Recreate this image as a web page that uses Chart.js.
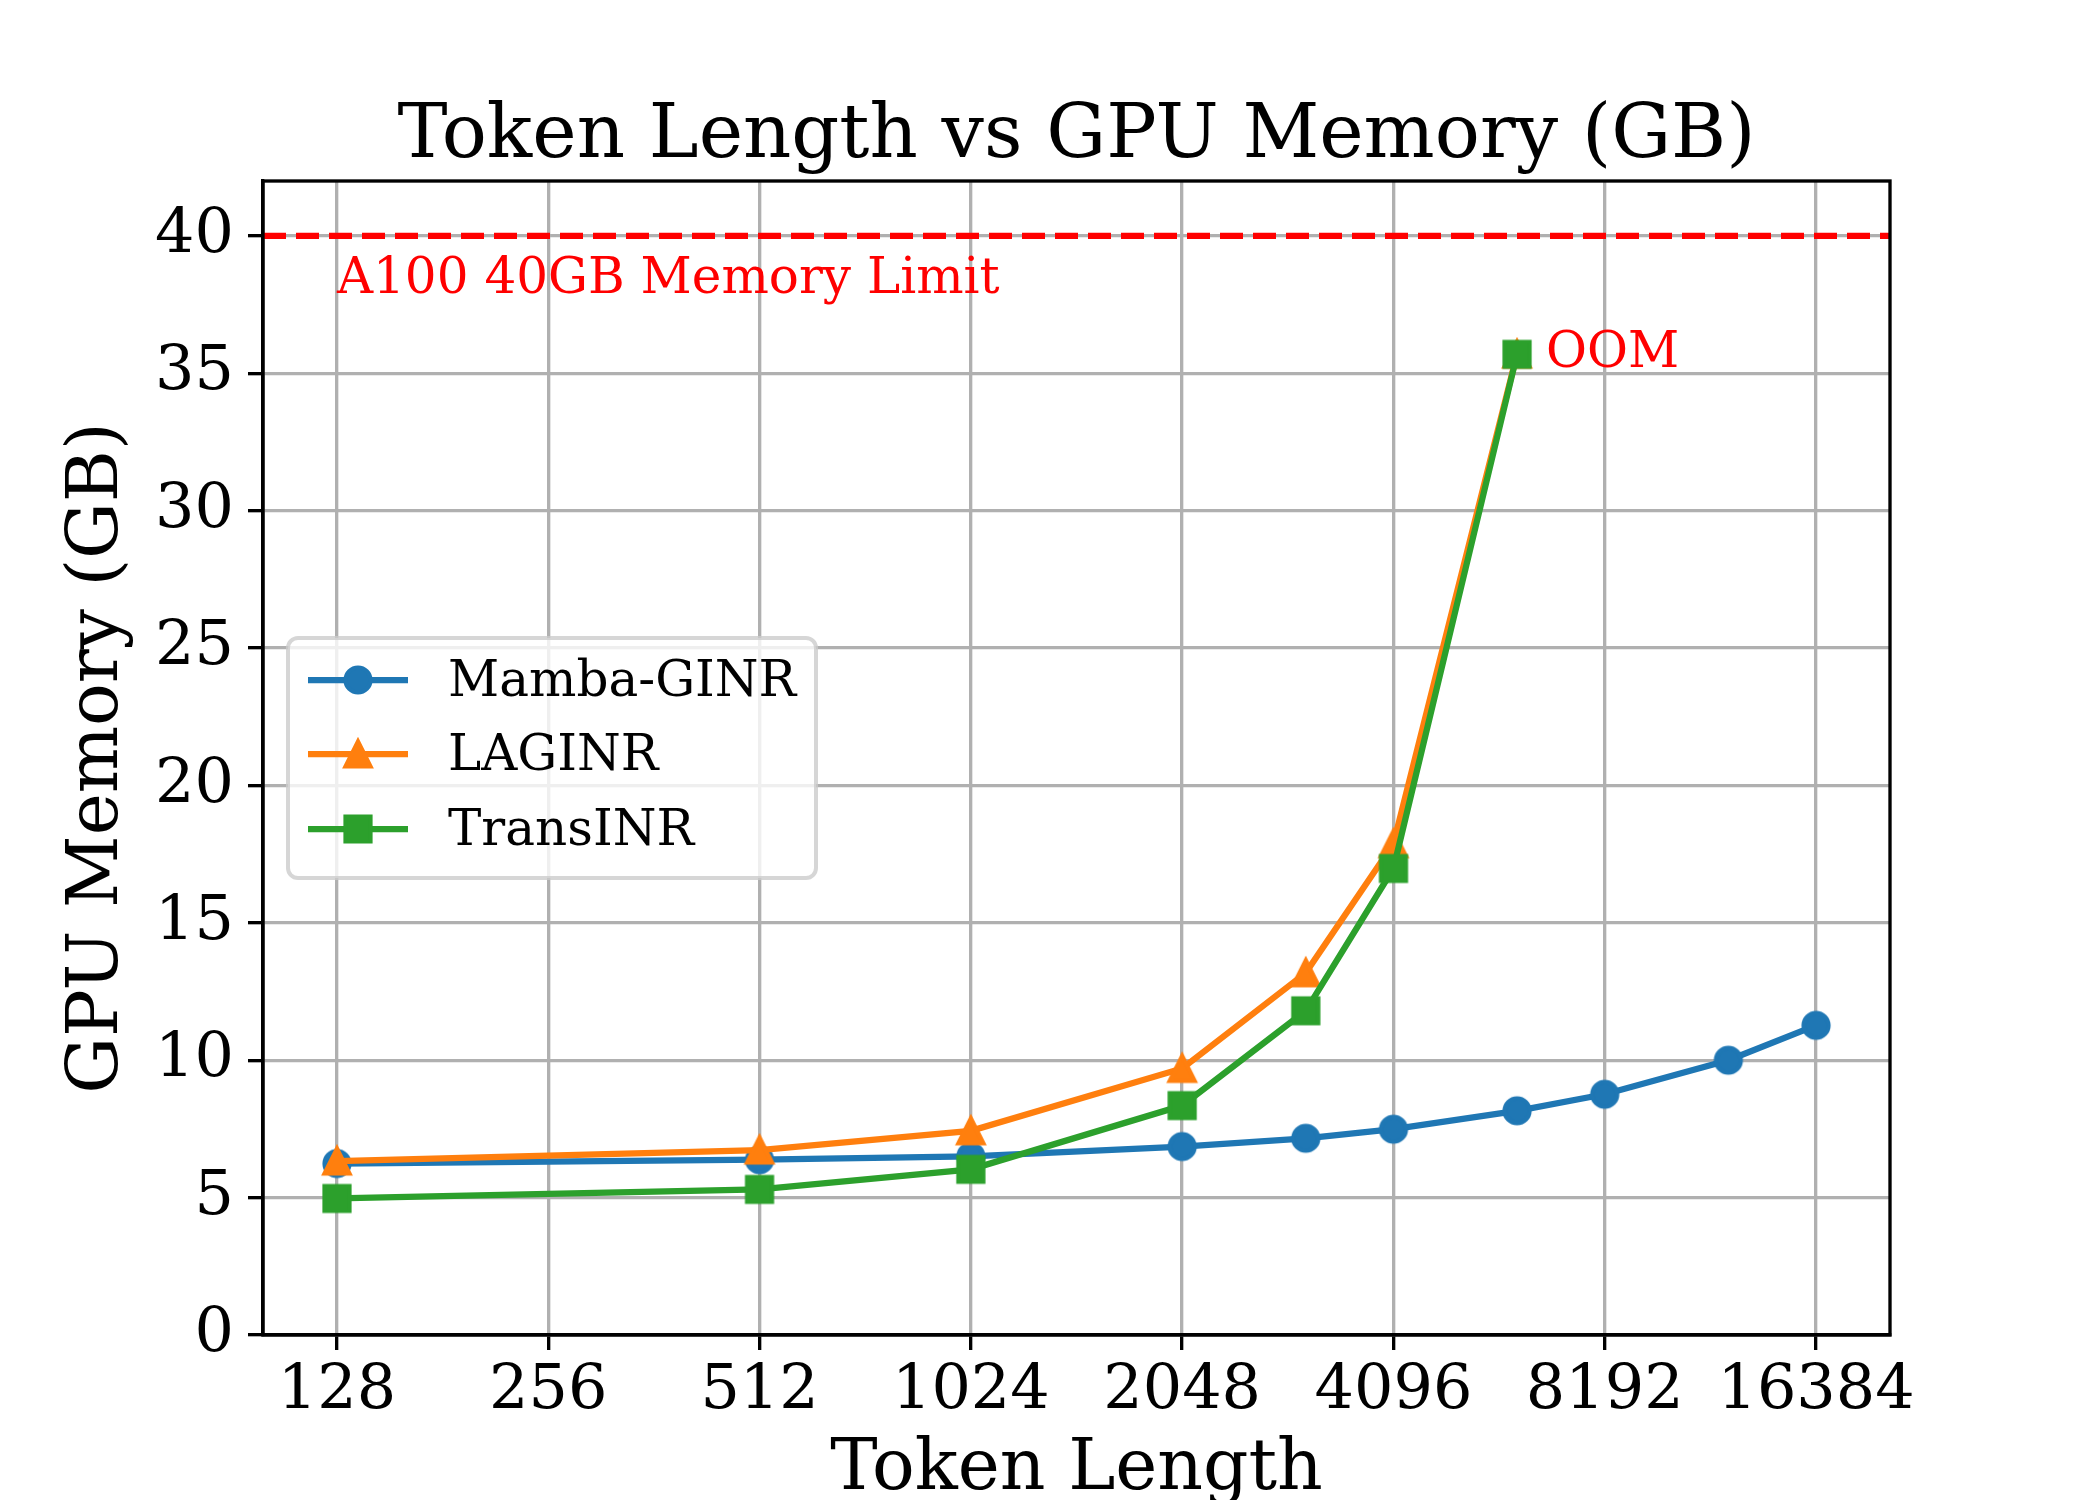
<!DOCTYPE html>
<html>
<head>
<meta charset="utf-8">
<script src="https://cdn.jsdelivr.net/npm/chart.js@4.4.1/dist/chart.umd.min.js"></script>
<style>
  html, body { margin: 0; padding: 0; background: #fff; }
</style>
</head>
<body>
<canvas id="chart" width="2100" height="1500"></canvas>
<script>
// tick values
const tokenTicks = [128, 256, 512, 1024, 2048, 4096, 8192, 16384];
const memoryTicks = [0, 5, 10, 15, 20, 25, 30, 35, 40];

// series
const mambaTokens = [128, 512, 1024, 2048, 3072, 4096, 6144, 8192, 12288, 16384];
const mambaMemory = [6.24, 6.38, 6.5, 6.86, 7.16, 7.49, 8.16, 8.76, 10.0, 11.27];

const laginrTokens = [128, 512, 1024, 2048, 3072, 4096, 6144];
const laginrMemory = [6.33, 6.73, 7.43, 9.7, 13.18, 17.88, 35.7];

const transTokens = [128, 512, 1024, 2048, 3072, 4096, 6144];
const transMemory = [4.97, 5.3, 6.03, 8.35, 11.8, 16.98, 35.69];

// annotations
const memoryLimit = 40;
const limitLabel = 'A100 40GB Memory Limit';
const limitLabelAt = [128, 37.94];
const oomLabel = 'OOM';
const oomLabelAt = [6144 * 1.1, 35.7];

const FONT = "'DejaVu Serif', 'Liberation Serif', serif";
const BLUE = '#1f77b4', ORANGE = '#ff7f0e', GREEN = '#2ca02c';

function series(xs, ys) {
    return xs.map((x, i) => ({ x: x, y: ys[i] }));
}

// matplotlib-like marker sprites (o, ^, s at markersize 6)
function makeMarker(shape, color) {
    const c = document.createElement('canvas');
    c.width = 40; c.height = 40;
    const g = c.getContext('2d');
    g.fillStyle = color;
    g.strokeStyle = color;
    g.lineWidth = 4.2;
    g.lineJoin = 'miter';
    g.beginPath();
    if (shape === 'circle') g.arc(20, 20, 12.5, 0, Math.PI * 2);
    else if (shape === 'square') g.rect(7.5, 7.5, 25, 25);
    else { g.moveTo(20, 7.5); g.lineTo(32.5, 32.5); g.lineTo(7.5, 32.5); g.closePath(); }
    g.fill();
    g.stroke();
    return c;
}

const markers = {
    mamba: makeMarker('circle', BLUE),
    laginr: makeMarker('triangle', ORANGE),
    trans: makeMarker('square', GREEN)
};

const legendItems = [
    { label: 'Mamba-GINR', color: BLUE, marker: markers.mamba },
    { label: 'LAGINR', color: ORANGE, marker: markers.laginr },
    { label: 'TransINR', color: GREEN, marker: markers.trans }
];

const overlay = {
    id: 'overlay',
    beforeDatasetsDraw(chart) {
        const { ctx, chartArea: a, scales: { y } } = chart;
        const py = y.getPixelForValue(memoryLimit);
        ctx.save();
        ctx.strokeStyle = 'red';
        ctx.lineWidth = 6.25;
        ctx.setLineDash([23, 10]);
        ctx.beginPath();
        ctx.moveTo(a.left, py);
        ctx.lineTo(a.right, py);
        ctx.stroke();
        ctx.restore();
    },
    afterDatasetsDraw(chart) {
        const { ctx, chartArea: a, scales: { x, y } } = chart;
        ctx.save();
        // axes frame
        ctx.strokeStyle = '#000';
        ctx.lineWidth = 3.33;
        ctx.strokeRect(a.left, a.top, a.right - a.left, a.bottom - a.top);

        // annotations
        ctx.fillStyle = 'red';
        ctx.font = '50px ' + FONT;
        ctx.textAlign = 'left';
        ctx.textBaseline = 'alphabetic';
        ctx.fillText(limitLabel, x.getPixelForValue(limitLabelAt[0]), y.getPixelForValue(limitLabelAt[1]));
        ctx.textBaseline = 'middle';
        ctx.fillText(oomLabel, x.getPixelForValue(oomLabelAt[0]), y.getPixelForValue(oomLabelAt[1]));

        // legend, center left
        const bw = 528, bh = 240;
        const bx = a.left + 25, by = (a.top + a.bottom) / 2 - bh / 2;
        ctx.beginPath();
        ctx.roundRect(bx, by, bw, bh, 10);
        ctx.fillStyle = 'rgba(255,255,255,0.8)';
        ctx.fill();
        ctx.strokeStyle = 'rgba(204,204,204,0.8)';
        ctx.lineWidth = 4;
        ctx.stroke();
        const rows = [42, 116, 191];
        legendItems.forEach((it, i) => {
            const ry = by + rows[i];
            ctx.strokeStyle = it.color;
            ctx.lineWidth = 6.25;
            ctx.beginPath();
            ctx.moveTo(bx + 20, ry);
            ctx.lineTo(bx + 120, ry);
            ctx.stroke();
            ctx.drawImage(it.marker, bx + 70 - 20, ry - 20);
            ctx.fillStyle = '#000';
            ctx.font = '50px ' + FONT;
            ctx.textAlign = 'left';
            ctx.textBaseline = 'middle';
            ctx.fillText(it.label, bx + 160, ry + 3);
        });
        ctx.restore();
    },
    afterDraw(chart) {
        const { ctx, chartArea: a } = chart;
        ctx.save();
        ctx.fillStyle = '#000';
        ctx.font = '75px ' + FONT;
        ctx.textAlign = 'center';
        ctx.textBaseline = 'alphabetic';
        ctx.fillText('Token Length vs GPU Memory (GB)', (a.left + a.right) / 2, a.top - 24);
        ctx.restore();
    }
};

const ctx = document.getElementById('chart').getContext('2d');
const chart = new Chart(ctx, {
    type: 'line',
    data: {
        datasets: [{
            label: 'Mamba-GINR',
            data: series(mambaTokens, mambaMemory),
            borderColor: BLUE,
            backgroundColor: BLUE,
            pointStyle: markers.mamba,
            order: 3
        }, {
            label: 'LAGINR',
            data: series(laginrTokens, laginrMemory),
            borderColor: ORANGE,
            backgroundColor: ORANGE,
            pointStyle: markers.laginr,
            order: 2
        }, {
            label: 'TransINR',
            data: series(transTokens, transMemory),
            borderColor: GREEN,
            backgroundColor: GREEN,
            pointStyle: markers.trans,
            order: 1
        }]
    },
    options: {
        responsive: false,
        devicePixelRatio: 1,
        animation: false,
        layout: { padding: { left: 0, right: 210, top: 181, bottom: 0 } },
        elements: {
            line: { borderWidth: 6.25, tension: 0 },
            point: { radius: 12, hoverRadius: 12 }
        },
        plugins: {
            legend: { display: false },
            title: { display: false },
            tooltip: { enabled: false }
        },
        scales: {
            x: {
                type: 'logarithmic',
                min: Math.pow(2, 6.65),
                max: Math.pow(2, 14.35),
                afterBuildTicks: s => { s.ticks = tokenTicks.map(v => ({ value: v })); },
                afterFit: s => { s.height = 165; },
                ticks: {
                    callback: v => String(v),
                    autoSkip: false,
                    maxRotation: 0,
                    minRotation: 0,
                    padding: 5,
                    color: '#000',
                    font: { family: FONT, size: 62 }
                },
                grid: { color: '#b0b0b0', lineWidth: 3.33, tickColor: '#000', tickWidth: 3.33, tickLength: 15 },
                border: { color: '#000', width: 3.33 },
                title: {
                    display: true,
                    text: 'Token Length',
                    color: '#000',
                    font: { family: FONT, size: 71, lineHeight: 0.8 },
                    padding: { top: 0, bottom: 1 }
                }
            },
            y: {
                type: 'linear',
                min: 0,
                max: 42,
                afterBuildTicks: s => { s.ticks = memoryTicks.map(v => ({ value: v })); },
                afterFit: s => { s.width = 263; },
                ticks: {
                    padding: 14,
                    color: '#000',
                    font: { family: FONT, size: 62 }
                },
                grid: { color: '#b0b0b0', lineWidth: 3.33, tickColor: '#000', tickWidth: 3.33, tickLength: 15 },
                border: { color: '#000', width: 3.33 },
                title: {
                    display: true,
                    text: 'GPU Memory (GB)',
                    color: '#000',
                    font: { family: FONT, size: 71, lineHeight: 1.2 },
                    padding: { top: 56, bottom: 0 }
                }
            }
        }
    },
    plugins: [overlay]
});
</script>
</body>
</html>
